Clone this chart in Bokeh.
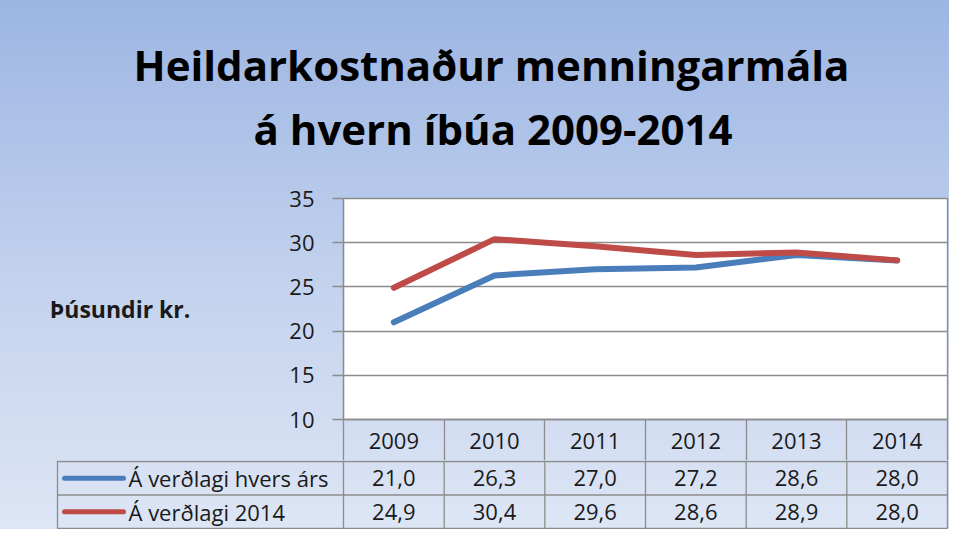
from bokeh.plotting import figure
from bokeh.models import Range1d, FixedTicker, Title
from bokeh.core.properties import value
from bokeh.embed import file_html
from bokeh.resources import INLINE

# ---------------- data ----------------
TITLE_LINE1 = "Heildarkostnaður menningarmála"
TITLE_LINE2 = "á hvern íbúa 2009-2014"
Y_LABEL = "Þúsundir kr."
YEARS = ["2009", "2010", "2011", "2012", "2013", "2014"]
Y_TICKS = [10, 15, 20, 25, 30, 35]
SERIES_NAMES = ["Á verðlagi hvers árs", "Á verðlagi 2014"]
CURRENT_PRICES = [21.0, 26.3, 27.0, 27.2, 28.6, 28.0]
PRICES_2014 = [24.9, 30.4, 29.6, 28.6, 28.9, 28.0]

# ---------------- style / layout ----------------
BLUE = "#4a7ebb"
RED = "#be4b48"
GRID = "#8c8c8c"
TXT = "#1a1a1a"
FONT = "Open Sans"
GRAD = [(0.0, (0x9c, 0xb5, 0xe3)), (0.55, (0xc4, 0xd3, 0xee)), (1.0, (0xdd, 0xe6, 0xf5))]

FIG_W = 949
FIG_H = 529
FRAME_LEFT = 343
FRAME_W = 604
FRAME_TOP = 198
CHART_PX = 221            # 10..35 in pixels
HEADER_PX = 41            # year header row (below the chart)
TABLE_LEFT_PX = 57
SWATCH_PX = (64, 123)
LABEL_PX = 128
TITLE1_LEFT = 133
TITLE2_LEFT = 253

N = len(YEARS)
XC = [i + 0.5 for i in range(N)]
BOUNDS = list(range(N + 1))
y_lo, y_hi = Y_TICKS[0], Y_TICKS[-1]
A_H = FRAME_TOP + CHART_PX + HEADER_PX
TABLE_H = FIG_H - A_H
ROW_PX = (TABLE_H - 2) / 2


def grad_color(f):
    for (f0, c0), (f1, c1) in zip(GRAD[:-1], GRAD[1:]):
        if f <= f1:
            t = (f - f0) / (f1 - f0)
            return "#%02x%02x%02x" % tuple(round(a + t * (b - a)) for a, b in zip(c0, c1))
    return "#%02x%02x%02x" % GRAD[-1][1]


def grad_css(y0, y1):
    stops = [(y0 / FIG_H), *[f for f, _ in GRAD if y0 / FIG_H < f < y1 / FIG_H], (y1 / FIG_H)]
    parts = [f"{grad_color(f)} {100 * (f * FIG_H - y0) / (y1 - y0):.1f}%" for f in stops]
    return "linear-gradient(180deg, " + ", ".join(parts) + ")"


# ---------------- chart figure ----------------
pa = figure(frame_width=FRAME_W, frame_height=CHART_PX,
            min_border_left=FRAME_LEFT, min_border_right=FIG_W - FRAME_LEFT - FRAME_W,
            min_border_top=FRAME_TOP, min_border_bottom=HEADER_PX,
            x_range=Range1d(0, N), y_range=Range1d(y_lo, y_hi),
            output_backend="svg", toolbar_location=None, title=TITLE_LINE1)
pa.styles = {"background": grad_css(0, A_H)}
pa.background_fill_color = "white"
pa.border_fill_color = None
pa.outline_line_color = GRID
pa.outline_line_width = 1.3
pa.xgrid.visible = False
pa.ygrid.ticker = FixedTicker(ticks=Y_TICKS)
pa.ygrid.grid_line_color = GRID
pa.ygrid.grid_line_width = 1.3

pa.title.text_font = FONT
pa.title.text_font_size = "42px"
pa.title.text_font_style = "bold"
pa.title.text_color = "black"
pa.title.align = "left"
pa.title.offset = TITLE1_LEFT - FRAME_LEFT
pa.title.standoff = 0

spacer = Title(text=" ", text_font_size="1px", standoff=34)
pa.add_layout(spacer, "above")
t2 = Title(text=TITLE_LINE2, text_font=FONT, text_font_size="42px",
           text_font_style="bold", text_color="black", align="left",
           offset=TITLE2_LEFT - FRAME_LEFT, standoff=10)
pa.add_layout(t2, "above")

ax = pa.yaxis[0]
ax.ticker = FixedTicker(ticks=Y_TICKS)
ax.axis_line_color = GRID
ax.axis_line_width = 1.3
ax.major_tick_line_color = GRID
ax.major_tick_line_width = 1.3
ax.major_tick_out = 11
ax.major_tick_in = 0
ax.minor_tick_out = 0
ax.minor_tick_in = 0
ax.major_label_standoff = 18
ax.major_label_text_font = FONT
ax.major_label_text_font_size = "22px"
ax.major_label_text_color = TXT
ax.axis_label = Y_LABEL
ax.axis_label_orientation = "horizontal"
ax.axis_label_text_font = FONT
ax.axis_label_text_font_style = "bold"
ax.axis_label_text_font_size = "23px"
ax.axis_label_text_color = TXT
ax.axis_label_standoff = 96

# x axis = header row of the data table (years centred, minor ticks = cell borders)
xa = pa.xaxis[0]
xa.ticker = FixedTicker(ticks=XC, minor_ticks=BOUNDS)
xa.major_label_overrides = {x: y for x, y in zip(XC, YEARS)}
xa.axis_line_color = GRID
xa.axis_line_width = 1.3
xa.major_tick_out = 0
xa.major_tick_in = 0
xa.minor_tick_out = HEADER_PX
xa.minor_tick_in = 0
xa.minor_tick_line_color = GRID
xa.minor_tick_line_width = 1.3
xa.major_label_standoff = -28
xa.major_label_text_font = FONT
xa.major_label_text_font_size = "22px"
xa.major_label_text_color = TXT

pa.line(XC, CURRENT_PRICES, line_color=BLUE, line_width=6, line_cap="round", line_join="round")
pa.line(XC, PRICES_2014, line_color=RED, line_width=6, line_cap="round", line_join="round")

# ---------------- table figure (data rows) ----------------
col_px = FRAME_W / N


def px2x(px):
    return (px - FRAME_LEFT) / col_px


by_hi = 2 + 1.0 / ROW_PX
by_lo = -1.0 / ROW_PX
pb = figure(frame_width=FIG_W, frame_height=TABLE_H,
            min_border_left=0, min_border_right=0, min_border_top=0, min_border_bottom=0,
            x_range=Range1d(px2x(0), px2x(FIG_W)), y_range=Range1d(by_lo, by_hi),
            x_axis_location=None, y_axis_location=None,
            output_backend="svg", toolbar_location=None)
pb.styles = {"background": grad_css(A_H, FIG_H)}
pb.background_fill_color = None
pb.border_fill_color = None
pb.outline_line_color = None
pb.grid.visible = False

tl = px2x(TABLE_LEFT_PX)
rows_y = [1.5, 0.5]
pb.segment(x0=tl, x1=N, y0=[0, 1, 2], y1=[0, 1, 2], line_color=GRID, line_width=1.3)
vx = [tl] + BOUNDS
pb.segment(x0=vx, x1=vx, y0=0, y1=by_hi, line_color=GRID, line_width=1.3)
pb.segment(x0=px2x(SWATCH_PX[0]), x1=px2x(SWATCH_PX[1]), y0=rows_y, y1=rows_y,
           line_color=[BLUE, RED], line_width=5, line_cap="round")
pb.text(x=px2x(LABEL_PX), y=rows_y, text=SERIES_NAMES,
        text_font=value(FONT), text_font_size="22px", text_color=TXT,
        text_align="left", text_baseline="middle")


def fmt(v):
    return f"{v:.1f}".replace(".", ",")


for vals, yy in zip([CURRENT_PRICES, PRICES_2014], rows_y):
    pb.text(x=XC, y=[yy] * N, text=[fmt(v) for v in vals],
            text_font=value(FONT), text_font_size="22px", text_color=TXT,
            text_align="center", text_baseline="middle")

open("out.html", "w").write(file_html([pa, pb], INLINE))
